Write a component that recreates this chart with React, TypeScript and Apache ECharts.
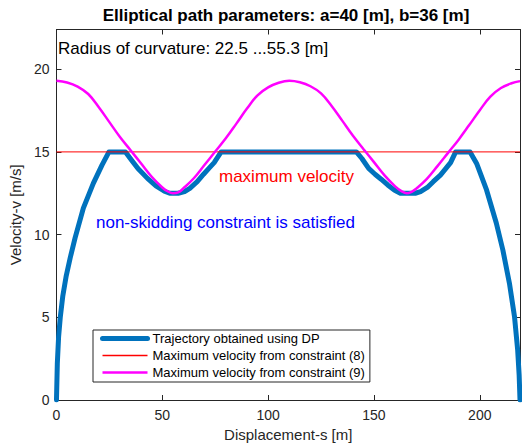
import React, { useEffect, useRef } from "react";
import * as echarts from "echarts";

const FONT = "'Liberation Sans', Arial, Helvetica, sans-serif";

const titleText = "Elliptical path parameters: a=40 [m], b=36 [m]";
const radiusText = "Radius of curvature: 22.5 ...55.3 [m]";
const maxVelText = "maximum velocity";
const skidText = "non-skidding constraint is satisfied";
const xName = "Displacement-s [m]";
const yName = "Velocity-v [m/s]";

const seriesNames = [
  "Trajectory obtained using DP",
  "Maximum velocity from constraint (8)",
  "Maximum velocity from constraint (9)",
];

const xMin = 0;
const xMax = 219;
const yMin = 0;
const yMax = 22.4;
const xInterval = 50;
const yInterval = 5;

// constraint (9) curve (magenta)
const magentaS = [
  0, 5, 10, 15, 20, 25, 30, 35, 40, 45, 50, 52.5, 55, 57.5, 60, 65, 70, 75, 80, 85, 90, 95, 100,
  105, 110, 115, 120, 125, 130, 135, 140, 145, 150, 155, 160, 163, 165.5, 168, 170, 175, 180, 185,
  190, 195, 200, 205, 210, 215, 219,
];
const magentaV = [
  19.3, 19.2, 18.95, 18.5, 17.7, 16.8, 15.9, 15.1, 14.3, 13.5, 12.85, 12.62, 12.5, 12.55, 12.8,
  13.42, 14.22, 15.02, 15.82, 16.71, 17.62, 18.42, 18.9, 19.18, 19.3, 19.21, 18.97, 18.54, 17.78,
  16.89, 15.99, 15.18, 14.38, 13.58, 12.92, 12.63, 12.5, 12.6, 12.78, 13.37, 14.14, 14.94, 15.74,
  16.62, 17.52, 18.34, 18.86, 19.15, 19.28,
];

// constraint (8) line (red)
const redS = [0, 219];
const redV = [15, 15];

// DP trajectory (blue)
const blueS = [
  0, 0.4, 1.0, 1.8, 3.0, 4.6, 6.5, 8.8, 12.7, 17.4, 21.5, 24.8, 32.6, 35.5, 38.5, 43.0, 47.0, 51.0,
  53.5, 57.5, 60.5, 63.0, 66.5, 69.5, 72.0, 74.5, 77.8, 141.7, 144.3, 147.5, 150.5, 153.4, 156.5,
  159.6, 162.5, 169.5, 172.0, 175.2, 178.0, 181.4, 184.0, 186.2, 188.6, 195.4, 198.5, 203.2, 207.8,
  210.9, 214.0, 216.4, 217.9, 218.6, 219.0,
];
const blueV = [
  0, 2.2, 3.8, 5.0, 6.3, 7.5, 8.6, 9.8, 11.6, 13.1, 14.2, 15.0, 15.0, 14.5, 14.0, 13.4, 12.95,
  12.62, 12.5, 12.5, 12.6, 12.8, 13.2, 13.65, 14.0, 14.35, 15.0, 15.0, 14.6, 14.0, 13.65, 13.35,
  13.0, 12.7, 12.5, 12.5, 12.6, 12.85, 13.2, 13.6, 14.0, 14.35, 15.0, 15.0, 14.3, 12.7, 10.7, 9.07,
  7.06, 5.04, 3.02, 1.5, 0,
];

const lineWidths = [5, 1, 2.5];
const legendWidths = [5, 1.4, 2.5];
const lineColors = ["#0072BD", "#FF0000", "#FF00FF"];

const pairs = (xs: number[], ys: number[]) => xs.map((x, i) => [x, ys[i]]);

export default function App() {
  const ref = useRef<HTMLDivElement>(null);
  useEffect(() => {
    if (!ref.current) return;
    const chart = echarts.init(ref.current, undefined, { renderer: "svg" });
    const axisColor = "#262626";
    const baseX = {
      type: "value" as const,
      min: xMin,
      max: xMax,
      interval: xInterval,
      splitLine: { show: false },
      axisLine: { show: true, onZero: false, lineStyle: { color: axisColor, width: 1 } },
      axisTick: { show: true, inside: true, length: 5, lineStyle: { color: axisColor } },
    };
    const baseY = {
      type: "value" as const,
      min: yMin,
      max: yMax,
      interval: yInterval,
      splitLine: { show: false },
      axisLine: { show: true, onZero: false, lineStyle: { color: axisColor, width: 1 } },
      axisTick: { show: true, inside: true, length: 5, lineStyle: { color: axisColor } },
    };
    chart.setOption({
      animation: false,
      backgroundColor: "#ffffff",
      grid: { left: 51, right: 2, top: 29.5, bottom: 47, containLabel: false },
      xAxis: [
        {
          ...baseX,
          position: "bottom",
          axisLabel: { color: axisColor, fontSize: 14, margin: 8, fontFamily: FONT, showMaxLabel: false },
          name: xName,
          nameLocation: "middle",
          nameGap: 27,
          nameTextStyle: { fontSize: 15, color: axisColor, fontFamily: FONT },
        },
        { ...baseX, position: "top", axisLabel: { show: false } },
      ],
      yAxis: [
        {
          ...baseY,
          position: "left",
          axisLabel: { color: axisColor, fontSize: 14, margin: 7, fontFamily: FONT, showMaxLabel: false },
          name: yName,
          nameLocation: "middle",
          nameGap: 29,
          nameTextStyle: { fontSize: 15, color: axisColor, fontFamily: FONT },
        },
        { ...baseY, position: "right", axisLabel: { show: false } },
      ],
      legend: {
        left: 93,
        top: 330,
        orient: "vertical",
        itemWidth: 45,
        itemHeight: 14,
        itemGap: 4,
        padding: [2, 5, 3, 7],
        borderColor: axisColor,
        borderWidth: 1,
        borderRadius: 0,
        backgroundColor: "#ffffff",
        selectedMode: false,
        itemStyle: { opacity: 0 },
        textStyle: { fontSize: 13, color: "#000000", fontFamily: FONT },
        data: seriesNames.map((name, i) => ({
          name,
          lineStyle: { width: legendWidths[i], color: lineColors[i], opacity: 1, type: "solid" },
        })),
      },
      series: [
        {
          name: seriesNames[0],
          type: "line",
          data: pairs(blueS, blueV),
          symbol: "none",
          lineStyle: { color: lineColors[0], width: lineWidths[0], join: "round", cap: "round" },
          itemStyle: { color: lineColors[0] },
          z: 2,
        },
        {
          name: seriesNames[1],
          type: "line",
          data: pairs(redS, redV),
          symbol: "none",
          lineStyle: { color: lineColors[1], width: lineWidths[1] },
          itemStyle: { color: lineColors[1] },
          z: 3,
        },
        {
          name: seriesNames[2],
          type: "line",
          data: pairs(magentaS, magentaV),
          symbol: "none",
          smooth: 0.4,
          lineStyle: { color: lineColors[2], width: lineWidths[2] },
          itemStyle: { color: lineColors[2] },
          z: 4,
        },
      ],
      graphic: [
        {
          type: "text",
          x: 286,
          y: 15,
          style: {
            text: titleText,
            fill: "#000000",
            font: `bold 17px ${FONT}`,
            align: "center",
            verticalAlign: "middle",
          },
        },
        {
          type: "text",
          x: 58,
          y: 48,
          style: {
            text: radiusText,
            fill: "#000000",
            font: `17px ${FONT}`,
            align: "left",
            verticalAlign: "middle",
          },
        },
        {
          type: "text",
          x: 219,
          y: 176,
          style: {
            text: maxVelText,
            fill: "#FF0000",
            font: `17px ${FONT}`,
            align: "left",
            verticalAlign: "middle",
          },
        },
        {
          type: "text",
          x: 96,
          y: 222,
          style: {
            text: skidText,
            fill: "#0000FF",
            font: `17px ${FONT}`,
            align: "left",
            verticalAlign: "middle",
          },
        },
      ],
    });
    return () => chart.dispose();
  }, []);
  return (
    <div
      ref={ref}
      style={{ position: "absolute", left: 0, top: 0, width: 522, height: 447, background: "#fff" }}
    />
  );
}
